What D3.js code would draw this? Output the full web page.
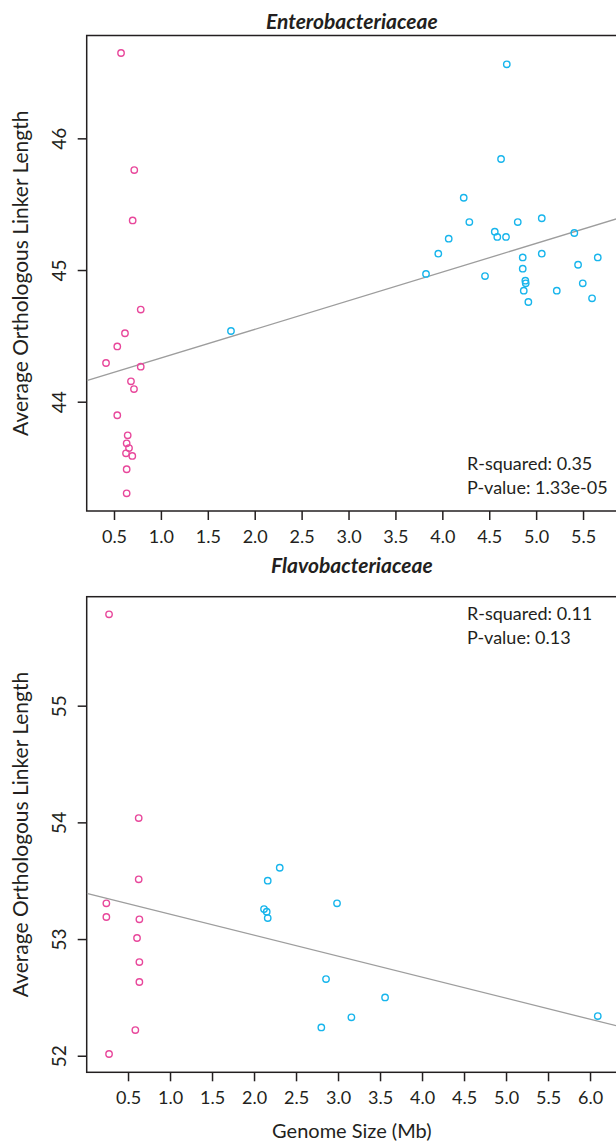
<!DOCTYPE html>
<html>
<head>
<meta charset="utf-8">
<script src="https://cdn.jsdelivr.net/npm/d3@7"></script>
<style>
  body { margin: 0; background: white; }
  svg text { font-family: Lato, "Open Sans", sans-serif; fill: #231f20; }
</style>
</head>
<body>
<div id="chart"></div>
<script>

//////////////////////////////////////////////////////////////////////////////
// Data: genome size (Mb) vs average linker length

// Enterobacteriaceae, reduced genomes (pink)
var enteroPinkSize   = [0.575, 0.716, 0.699, 0.785, 0.617, 0.535, 0.415, 0.785, 0.681,
                        0.713, 0.535, 0.646, 0.635, 0.660, 0.628, 0.695, 0.635, 0.635];
var enteroPinkLinker = [46.648, 45.759, 45.377, 44.700, 44.520, 44.420, 44.294, 44.266, 44.155,
                        44.096, 43.897, 43.745, 43.684, 43.648, 43.608, 43.588, 43.487, 43.304];

// Enterobacteriaceae, free-living genomes (blue)
var enteroBlueSize   = [1.747, 4.687, 4.626, 4.228, 4.288, 4.068, 3.957, 3.826, 4.455, 4.559,
                        4.586, 4.679, 4.804, 5.060, 5.407, 4.857, 5.060, 4.857, 5.657, 5.447,
                        4.885, 4.889, 4.868, 4.917, 5.220, 5.497, 5.596];
var enteroBlueLinker = [44.537, 46.562, 45.843, 45.549, 45.364, 45.238, 45.124, 44.970, 44.954, 45.291,
                        45.251, 45.251, 45.364, 45.393, 45.281, 45.096, 45.124, 45.010, 45.096, 45.040,
                        44.919, 44.899, 44.843, 44.757, 44.843, 44.899, 44.785];

// Flavobacteriaceae, reduced genomes (pink)
var flavoPinkSize   = [0.274, 0.627, 0.627, 0.242, 0.242, 0.635, 0.607, 0.635, 0.635, 0.587, 0.274];
var flavoPinkLinker = [55.783, 54.037, 53.512, 53.306, 53.189, 53.169, 53.009, 52.803, 52.632, 52.220, 52.015];

// Flavobacteriaceae, free-living genomes (blue)
var flavoBlueSize   = [2.306, 2.163, 2.988, 2.119, 2.151, 2.163, 2.857, 3.560, 3.159, 2.801, 6.092];
var flavoBlueLinker = [53.611, 53.500, 53.306, 53.257, 53.234, 53.180, 52.657, 52.500, 52.329, 52.243, 52.340];

// Linear fits [intercept, slope] and the stats printed in each panel
var enteroFit = [44.114, 0.2176];
var flavoFit  = [53.393, -0.180];
var enteroStats = ["R-squared: 0.35", "P-value: 1.33e-05"];
var flavoStats  = ["R-squared: 0.11", "P-value: 0.13"];

var enteroXTicks = [0.5, 1.0, 1.5, 2.0, 2.5, 3.0, 3.5, 4.0, 4.5, 5.0, 5.5];
var flavoXTicks  = [0.5, 1.0, 1.5, 2.0, 2.5, 3.0, 3.5, 4.0, 4.5, 5.0, 5.5, 6.0];
var enteroYTicks = [44, 45, 46];
var flavoYTicks  = [52, 53, 54, 55];

var pink = "#e8479b";
var blue = "#17b5ec";

//////////////////////////////////////////////////////////////////////////////
// Layout

var width = 616, height = 1144;
var left = 86.7, right = 617;

var svg = d3.select("#chart")
    .append("svg")
    .attr("width", width)
    .attr("height", height);

function toPoints(xs, ys) {
    return xs.map(function(x, i) { return { x: x, y: ys[i] }; });
}

function drawPanel(p) {
    var xScale = d3.scaleLinear().domain(p.xDomain).range([left, right]);
    var yScale = d3.scaleLinear().domain(p.yDomain).range([p.bottom, p.top]);

    var g = svg.append("g");

    // clip so the fit line stays inside the box
    var clipId = "clip-" + p.name;
    g.append("clipPath").attr("id", clipId)
        .append("rect")
        .attr("x", left).attr("y", p.top)
        .attr("width", right - left).attr("height", p.bottom - p.top);

    // x axis
    var xAxis = g.append("g")
        .attr("transform", "translate(0," + p.bottom + ")")
        .call(d3.axisBottom(xScale).tickValues(p.xTicks).tickSize(9)
              .tickFormat(d3.format(".1f")));
    xAxis.select(".domain").remove();
    xAxis.selectAll("line").attr("stroke", "#231f20").attr("stroke-width", 1.5);
    xAxis.selectAll("text")
        .attr("y", 32).attr("dy", 0)
        .style("font-size", "18px");

    // y axis, labels rotated like R's default
    var yAxis = g.append("g")
        .attr("transform", "translate(" + left + ",0)")
        .call(d3.axisLeft(yScale).tickValues(p.yTicks).tickSize(9)
              .tickFormat(d3.format("d")));
    yAxis.select(".domain").remove();
    yAxis.selectAll("line").attr("stroke", "#231f20").attr("stroke-width", 1.5);
    yAxis.selectAll("text")
        .attr("x", 0).attr("dy", 0)
        .attr("text-anchor", "middle")
        .attr("transform", "translate(-21,0) rotate(-90)")
        .style("font-size", "19px");

    // frame
    g.append("rect")
        .attr("x", left).attr("y", p.top)
        .attr("width", right - left).attr("height", p.bottom - p.top)
        .attr("fill", "none")
        .attr("stroke", "#231f20")
        .attr("stroke-width", 1.5);

    // regression line
    var x0 = p.xDomain[0], x1 = p.xDomain[1];
    g.append("line")
        .attr("clip-path", "url(#" + clipId + ")")
        .attr("x1", xScale(x0)).attr("y1", yScale(p.fit[0] + p.fit[1] * x0))
        .attr("x2", xScale(x1)).attr("y2", yScale(p.fit[0] + p.fit[1] * x1))
        .attr("stroke", "#9d9d9d")
        .attr("stroke-width", 1.3);

    // points
    [[p.pink, pink], [p.blue, blue]].forEach(function(s) {
        g.append("g").selectAll("circle")
            .data(s[0])
            .enter()
            .append("circle")
            .attr("cx", function(d) { return xScale(d.x); })
            .attr("cy", function(d) { return yScale(d.y); })
            .attr("r", 3.2)
            .attr("fill", "none")
            .attr("stroke", s[1])
            .attr("stroke-width", 1.4);
    });

    // title
    g.append("text")
        .attr("x", (left + right) / 2)
        .attr("y", p.titleY)
        .attr("text-anchor", "middle")
        .style("font-size", "21px")
        .style("font-weight", "bold")
        .style("font-style", "italic")
        .text(p.title);

    // y label
    g.append("text")
        .attr("transform", "translate(28," + ((p.top + p.bottom) / 2) + ") rotate(-90)")
        .attr("text-anchor", "middle")
        .style("font-size", "21px")
        .text("Average Orthologous Linker Length");

    // stats
    g.selectAll(".stat")
        .data(p.stats)
        .enter()
        .append("text")
        .attr("class", "stat")
        .attr("x", 467)
        .attr("y", function(d, i) { return p.statsY + i * 24; })
        .style("font-size", "18px")
        .text(function(d) { return d; });
}

//////////////////////////////////////////////////////////////////////////////
// Two panels

drawPanel({
    name: "entero",
    title: "Enterobacteriaceae",
    titleY: 29,
    top: 35.5, bottom: 511,
    xDomain: [0.209, 5.862],
    yDomain: [43.170, 46.781],
    xTicks: enteroXTicks, yTicks: enteroYTicks,
    pink: toPoints(enteroPinkSize, enteroPinkLinker),
    blue: toPoints(enteroBlueSize, enteroBlueLinker),
    fit: enteroFit,
    stats: enteroStats, statsY: 470
});

drawPanel({
    name: "flavo",
    title: "Flavobacteriaceae",
    titleY: 573,
    top: 596.7, bottom: 1072.3,
    xDomain: [0.008, 6.321],
    yDomain: [51.858, 55.934],
    xTicks: flavoXTicks, yTicks: flavoYTicks,
    pink: toPoints(flavoPinkSize, flavoPinkLinker),
    blue: toPoints(flavoBlueSize, flavoBlueLinker),
    fit: flavoFit,
    stats: flavoStats, statsY: 620
});

svg.append("text")
    .attr("x", (left + right) / 2)
    .attr("y", 1138)
    .attr("text-anchor", "middle")
    .style("font-size", "20px")
    .text("Genome Size (Mb)");

</script>
</body>
</html>
